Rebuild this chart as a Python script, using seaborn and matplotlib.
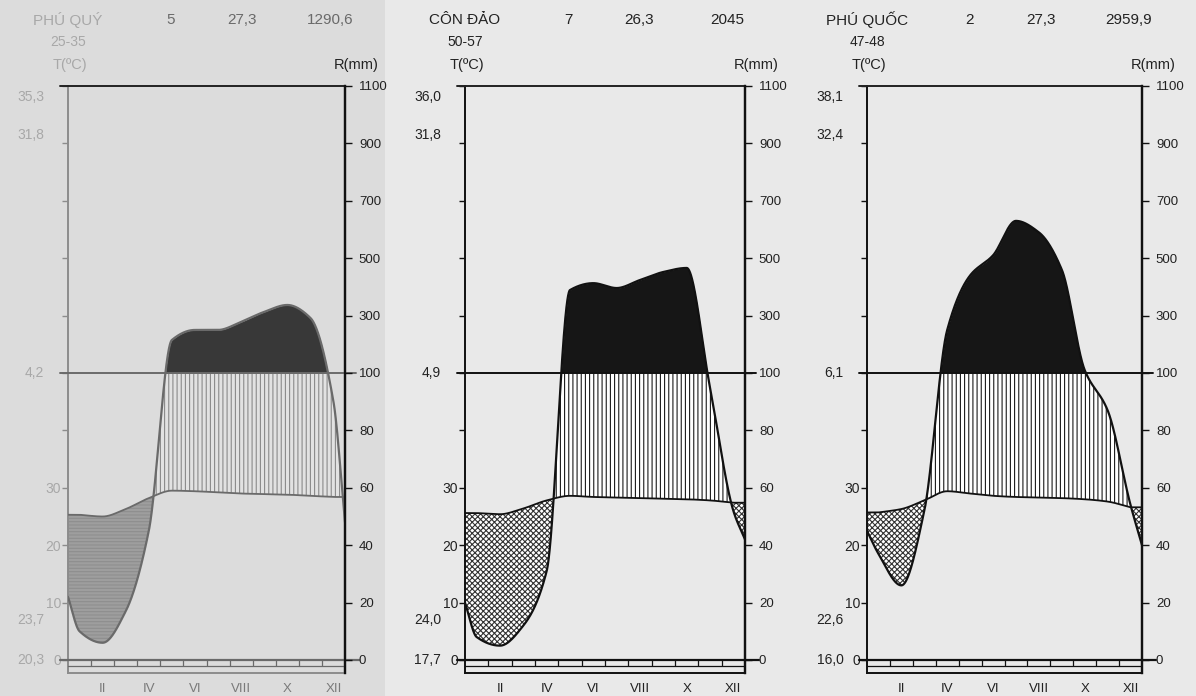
import numpy as np
import pandas as pd
import matplotlib
matplotlib.use("Agg")
import matplotlib.pyplot as plt
from matplotlib.patches import Rectangle
import seaborn as sns

# ---------------- data ----------------
tick_months = ["II", "IV", "VI", "VIII", "X", "XII"]
stations = ["PHÚ QUÝ", "CÔN ĐẢO", "PHÚ QUỐC"]
periods = ["25-35", "50-57", "47-48"]
dry_months = ["5", "7", "2"]
mean_temp = ["27,3", "26,3", "27,3"]
annual_rain = ["1290,6", "2045", "2959,9"]

# monthly mean temperature (°C), Jan..Dec
temp_phuquy = [25.3, 25.0, 26.3, 28.2, 29.5, 29.4, 29.2, 29.0, 28.9, 28.8, 28.6, 28.4]
temp_condao = [25.6, 25.4, 26.4, 27.8, 28.6, 28.4, 28.3, 28.2, 28.1, 28.0, 27.8, 27.4]
temp_phuquoc = [25.7, 26.3, 27.8, 29.4, 29.0, 28.6, 28.4, 28.3, 28.2, 28.0, 27.6, 26.6]

# monthly rainfall (mm), Jan..Dec
rain_phuquy = [10, 6, 17, 45, 215, 250, 250, 278, 313, 337, 292, 90]
rain_condao = [8, 5, 12, 31, 389, 413, 396, 424, 452, 466, 95, 52]
rain_phuquoc = [37, 26, 52, 250, 440, 510, 630, 590, 460, 110, 87, 54]
# rainfall read at the left / right edge of each diagram (mm)
rain_edges_phuquy = [22, 48]
rain_edges_condao = [20, 42]
rain_edges_phuquoc = [45, 40]

# extreme values written left of each diagram
extremes_phuquy = ["35,3", "31,8", "4,2", "23,7", "20,3"]
extremes_condao = ["36,0", "31,8", "4,9", "24,0", "17,7"]
extremes_phuquoc = ["38,1", "32,4", "6,1", "22,6", "16,0"]

temps = [temp_phuquy, temp_condao, temp_phuquoc]
rains = [rain_phuquy, rain_condao, rain_phuquoc]
edges = [rain_edges_phuquy, rain_edges_condao, rain_edges_phuquoc]
extremes = [extremes_phuquy, extremes_condao, extremes_phuquoc]

rain_ticks = [0, 20, 40, 60, 80, 100, 300, 500, 700, 900, 1100]
temp_ticks = [0, 10, 20, 30]


# ---------------- helpers ----------------
def tr(r):
    r = np.asarray(r, float)
    return np.where(r <= 100, r, 100 + (r - 100) / 10.0)


def pchip(x, y, xs):
    x = np.asarray(x, float)
    y = np.asarray(y, float)
    h = np.diff(x)
    delta = np.diff(y) / h
    n = len(x)
    d = np.zeros(n)
    for k in range(1, n - 1):
        if delta[k - 1] * delta[k] > 0:
            w1 = 2 * h[k] + h[k - 1]
            w2 = h[k] + 2 * h[k - 1]
            d[k] = (w1 + w2) / (w1 / delta[k - 1] + w2 / delta[k])
    d[0] = delta[0]
    d[-1] = delta[-1]
    idx = np.clip(np.searchsorted(x, xs) - 1, 0, n - 2)
    t = (xs - x[idx]) / h[idx]
    h00 = 2 * t**3 - 3 * t**2 + 1
    h10 = t**3 - 2 * t**2 + t
    h01 = -2 * t**3 + 3 * t**2
    h11 = t**3 - t**2
    return (h00 * y[idx] + h10 * h[idx] * d[idx]
            + h01 * y[idx + 1] + h11 * h[idx] * d[idx + 1])


# ---------------- figure ----------------
sns.set_theme(style="white")
plt.rcParams["font.family"] = ["Liberation Sans", "DejaVu Sans"]
plt.rcParams["hatch.linewidth"] = 0.8

W, H = 1196, 696
fig = plt.figure(figsize=(W / 100, H / 100), dpi=100)
fig.patch.set_facecolor("#e9e9e9")
fig.patches.append(Rectangle((0, 0), 385 / W, 1, transform=fig.transFigure,
                             facecolor="#dcdcdc", edgecolor="none", zorder=-10))

panels_px = [(68, 345), (465, 745), (867, 1142)]
y_top, y_bot = 86.0, 672.9
ymin, ymax = -4.5, 200

month_centers = np.arange(12) + 0.5
xs = np.linspace(0, 12, 1500)

for i in range(3):
    faded = (i == 0)
    ink = "#6a6a6a" if faded else "#111111"
    dark = "#383838" if faded else "#161616"
    hatch_col = "#8a8a8a" if faded else "#1a1a1a"
    txt = "#a8a8a8" if faded else "#222222"
    txt_num = "#6a6a6a" if faded else "#222222"

    x0, x1 = panels_px[i]
    ax = fig.add_axes([x0 / W, 1 - y_bot / H, (x1 - x0) / W, (y_bot - y_top) / H])
    ax.set_facecolor("none")
    ax.set_xlim(0, 12)
    ax.set_ylim(ymin, ymax)

    # curves
    t_curve = 2 * pchip(month_centers, temps[i], np.clip(xs, 0.5, 11.5))
    rx = np.concatenate([[0], month_centers, [12]])
    ry = tr(np.concatenate([[edges[i][0]], rains[i], [edges[i][1]]]))
    p_curve = pchip(rx, ry, xs)

    # humid period (vertical lines)
    ax.fill_between(xs, t_curve, np.minimum(p_curve, 100), where=p_curve >= t_curve,
                    interpolate=True, facecolor="#e2e2e2" if faded else "white",
                    hatch="||||", edgecolor=hatch_col, linewidth=0, zorder=2)
    # very wet months (> 100 mm)
    ax.fill_between(xs, 100, p_curve, where=p_curve > 100, interpolate=True,
                    color=dark, linewidth=0, zorder=2)
    # dry period (stippled)
    if faded:
        ax.fill_between(xs, p_curve, t_curve, where=t_curve > p_curve, interpolate=True,
                        facecolor="#9e9e9e", hatch="-----", edgecolor="#8e8e8e",
                        linewidth=0, zorder=2)
    else:
        ax.fill_between(xs, p_curve, t_curve, where=t_curve > p_curve, interpolate=True,
                        facecolor="white", hatch="xxxxxx", edgecolor="#333333",
                        linewidth=0, zorder=2)

    df = pd.DataFrame({"x": xs, "T": t_curve, "P": p_curve})
    sns.lineplot(data=df, x="x", y="P", ax=ax, color=ink, linewidth=1.6, zorder=4)
    sns.lineplot(data=df, x="x", y="T", ax=ax, color=ink, linewidth=1.3, zorder=4)

    # frame lines
    ytr = ax.get_yaxis_transform()
    ax.plot([-0.03, 1.04], [100, 100], transform=ytr, color=ink, lw=1.4, clip_on=False, zorder=5)
    ax.plot([-0.03, 1.0], [200, 200], transform=ytr, color="#222222", lw=1.4, clip_on=False, zorder=5)
    ax.plot([-0.03, 1.05], [0, 0], transform=ytr, color=ink, lw=1.6, clip_on=False, zorder=5)
    ax.plot([0, 1], [-2.2, -2.2], transform=ytr, color=ink, lw=0.9, zorder=5)
    ax.vlines(np.arange(1, 12), -2.2, 0, color=ink, lw=0.9, zorder=5)

    ax.spines["top"].set_visible(False)
    for s in ["left", "bottom"]:
        ax.spines[s].set_color("#8c8c8c" if faded else "#111111")
        ax.spines[s].set_linewidth(1.4)
    ax.spines["right"].set_color("#111111")
    ax.spines["right"].set_linewidth(1.6)

    # left (temperature) axis
    yt = tr(rain_ticks)
    ax.set_yticks(yt)
    left_labels = []
    for v in yt:
        tv = v / 2
        left_labels.append(str(int(tv)) if (tv in temp_ticks and v <= 60) else "")
    ax.set_yticklabels(left_labels)
    ax.tick_params(axis="y", left=True, length=4, width=1.0, pad=1,
                   labelsize=10, colors="#8c8c8c" if faded else "#111111",
                   labelcolor=txt)
    ax.set_ylabel("")
    ax.set_xlabel("")

    # month labels
    ax.set_xticks(np.arange(1, 12, 2) + 0.5)
    ax.set_xticklabels(tick_months, fontsize=9.5, color="#7a7a7a" if faded else "#222222")
    ax.tick_params(axis="x", bottom=False, pad=1)
    ax.grid(False)

    # right (rainfall) axis
    ax2 = ax.twinx()
    ax2.set_ylim(ymin, ymax)
    ax2.set_yticks(yt)
    ax2.set_yticklabels([str(r) for r in rain_ticks])
    ax2.tick_params(axis="y", right=True, length=5, width=1.0, pad=5,
                    labelsize=9.5, colors="#111111", labelcolor="#222222")
    for s in ["top", "left", "bottom"]:
        ax2.spines[s].set_visible(False)
    ax2.spines["right"].set_color("#111111")
    ax2.spines["right"].set_linewidth(1.6)
    ax2.grid(False)

    # extreme values, left of the diagram
    for lab, yv in zip(extremes[i], [196, 183, 100, 14, 0]):
        ax.text(-0.085, yv, lab, transform=ytr, ha="right", va="center",
                fontsize=10, color=txt)

    # headers
    def ftext(xp, yp, s, **kw):
        fig.text(xp / W, 1 - yp / H, s, ha="center", va="center", **kw)

    ftext(x0 + 0, 20, stations[i], fontsize=11, color=txt)
    ftext(x0 + 103, 20, dry_months[i], fontsize=11, color=txt_num)
    ftext(x0 + 174, 20, mean_temp[i], fontsize=11, color=txt_num)
    ftext(x0 + 262, 20, annual_rain[i], fontsize=11, color=txt_num)
    ftext(x0 + 0, 42, periods[i], fontsize=10, color=txt)
    ftext(x0 + 2, 65, "T(ºC)", fontsize=10.5, color=txt)
    ftext(x1 + 11, 65, "R(mm)", fontsize=10.5, color="#222222")

fig.savefig("out.png", dpi=100, facecolor=fig.get_facecolor())
